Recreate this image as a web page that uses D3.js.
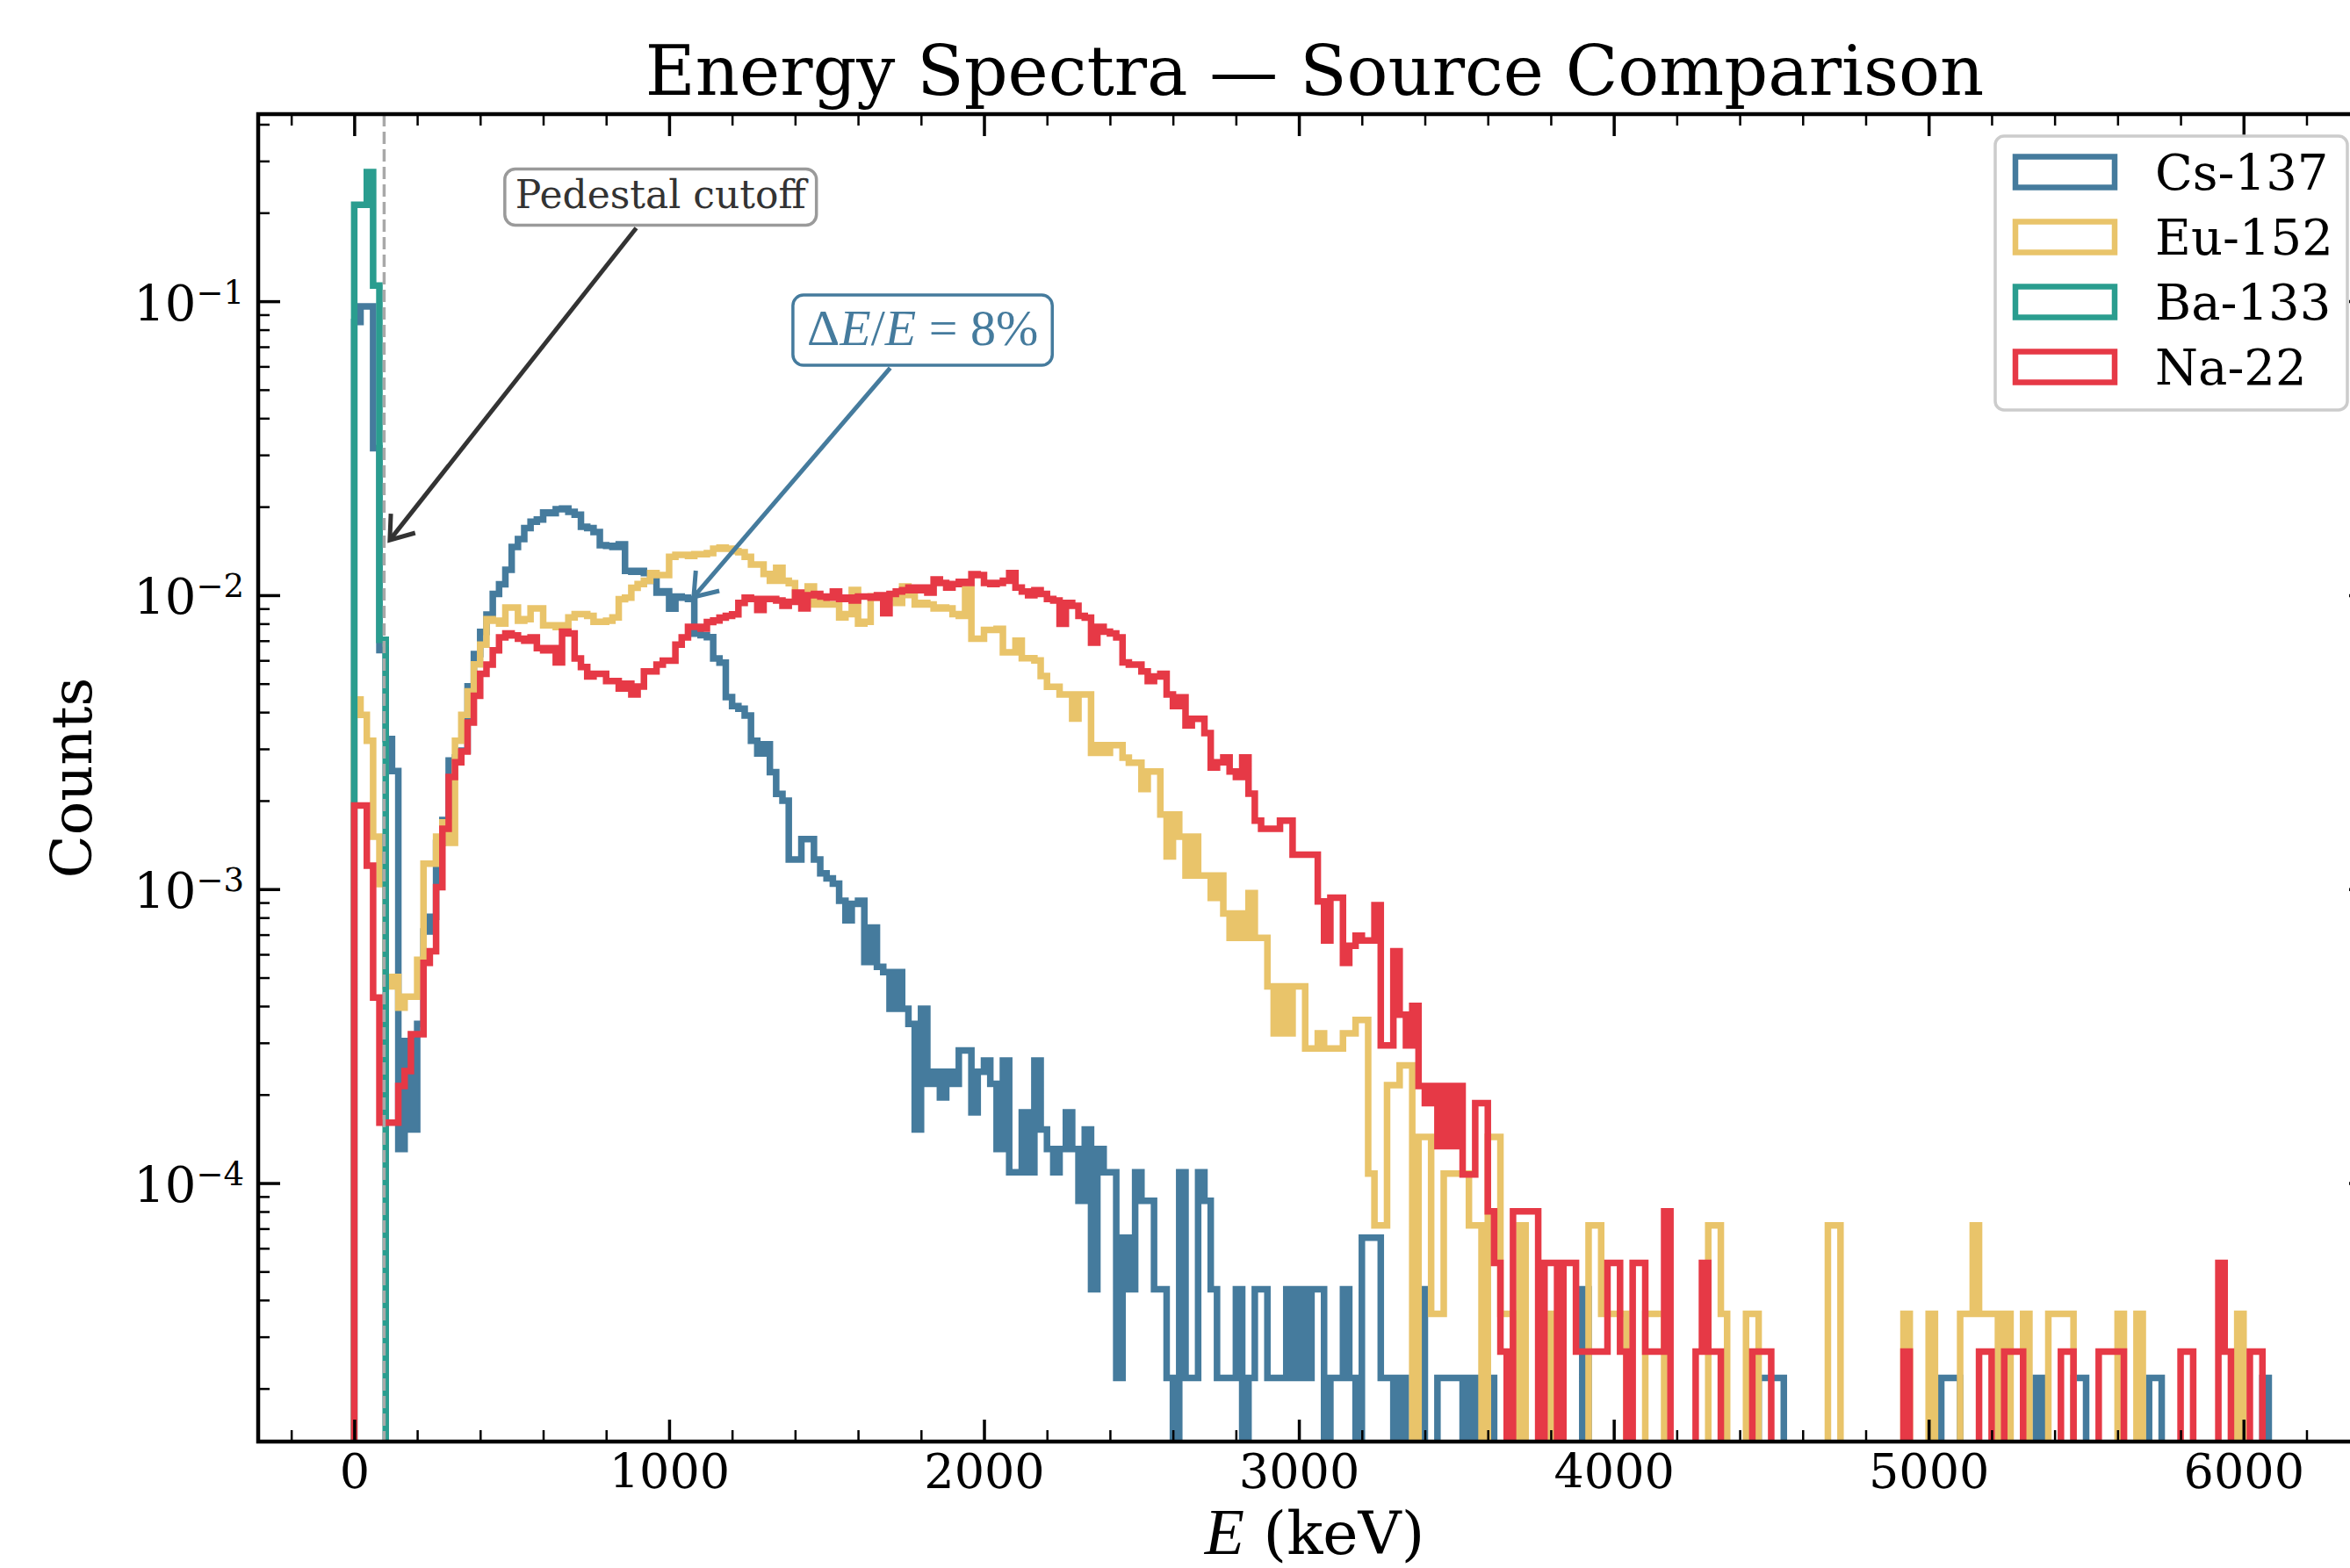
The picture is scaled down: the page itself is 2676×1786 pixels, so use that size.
<!DOCTYPE html>
<html>
<head>
<meta charset="utf-8">
<script src="https://cdn.jsdelivr.net/npm/d3@7"></script>
<style>
  html, body { margin: 0; padding: 0; background: #fff; overflow: hidden }
  svg { display: block }
</style>
</head>
<body>
<div id="chart"></div>
<script>
// histogram bins: 20 keV wide, starting at 0 keV
const BIN_WIDTH = 20

const sources = ['Cs-137', 'Eu-152', 'Ba-133', 'Na-22']
const colors = ['#457b9d', '#e9c46a', '#2a9d8f', '#e63946']
// events per source, counts are divided by these
const totals = [45977, 27855, 20000, 37411]

const cs137 = [
  3908, 4414, 4414, 1453, 299, 149, 116, 6, 14, 7,
  16, 33, 37, 66, 79, 126, 129, 136, 225, 290,
  345, 395, 464, 501, 561, 671, 713, 777, 818, 832,
  878, 874, 901, 906, 883, 864, 786, 777, 754, 680,
  676, 671, 685, 556, 552, 556, 547, 515, 469, 474,
  414, 455, 451, 446, 340, 336, 331, 280, 271, 207,
  193, 189, 179, 147, 133, 143, 115, 97, 92, 58,
  58, 68, 68, 58, 52, 50, 48, 42, 36, 41,
  42, 26, 34, 25, 24, 18, 24, 18, 16, 7,
  18, 10, 11, 9, 11, 10, 13, 13, 8, 11,
  12, 10, 6, 12, 5, 5, 8, 5, 12, 7,
  6, 5, 6, 8, 6, 4, 7, 2, 6, 5,
  5, 1, 3, 2, 5, 4, 4, 2, 2, 1,
  0, 5, 1, 1, 5, 4, 2, 1, 1, 1,
  2, 0, 1, 2, 2, 1, 1, 1, 2, 1,
  2, 1, 2, 2, 0, 1, 1, 2, 1, 0,
  3, 3, 3, 1, 1, 0, 1, 0, 0, 2,
  0, 0, 1, 1, 1, 1, 0, 1, 0, 1,
  1, 0, 0, 0, 0, 0, 0, 0, 0, 0,
  0, 0, 0, 0, 0, 2, 0, 0, 0, 0,
  0, 0, 0, 0, 0, 0, 0, 0, 0, 0,
  0, 0, 0, 0, 0, 0, 0, 0, 0, 0,
  0, 0, 0, 1, 1, 1, 1, 0, 0, 0,
  0, 0, 0, 0, 0, 0, 0, 0, 0, 0,
  0, 0, 0, 0, 0, 0, 0, 0, 0, 0,
  0, 0, 1, 1, 1, 0, 0, 0, 0, 0,
  0, 0, 0, 0, 0, 0, 0, 1, 0, 0,
  0, 0, 0, 1, 1, 0, 0, 0, 0, 0,
  0, 0, 0, 0, 0, 1, 1, 0, 0, 0,
  0, 0, 0, 0, 0, 0, 0, 0, 0, 0,
  0, 0, 0, 1, 0
]

const eu152 = [
  123, 109, 89, 42, 29, 13, 14, 11, 12, 12,
  16, 34, 34, 42, 47, 40, 89, 109, 131, 162,
  189, 231, 228, 223, 253, 253, 228, 231, 251, 251,
  220, 220, 217, 220, 234, 240, 240, 237, 226, 226,
  228, 234, 270, 273, 295, 304, 312, 331, 326, 326,
  376, 382, 382, 379, 384, 384, 387, 401, 404, 401,
  393, 390, 376, 354, 354, 329, 312, 345, 312, 306,
  276, 267, 298, 259, 262, 259, 259, 234, 240, 290,
  223, 226, 276, 273, 276, 273, 262, 298, 279, 259,
  262, 259, 251, 253, 251, 240, 237, 292, 198, 198,
  212, 212, 214, 178, 178, 195, 170, 170, 167, 148,
  136, 136, 128, 128, 106, 128, 128, 81, 86, 81,
  86, 86, 78, 75, 75, 61, 70, 70, 50, 36,
  50, 42, 31, 42, 31, 31, 26, 31, 23, 19,
  23, 19, 27, 19, 19, 13, 9, 13, 9, 13,
  13, 8, 8, 9, 8, 8, 8, 9, 9, 10,
  10, 3, 2, 2, 6, 6, 7, 7, 0, 4,
  4, 1, 1, 3, 3, 3, 3, 2, 2, 0,
  4, 4, 1, 1, 0, 2, 0, 0, 0, 0,
  1, 0, 0, 0, 0, 0, 2, 2, 1, 1,
  1, 1, 0, 0, 0, 1, 1, 1, 0, 0,
  0, 0, 0, 0, 0, 2, 2, 1, 0, 0,
  0, 1, 1, 0, 0, 0, 0, 0, 0, 0,
  0, 0, 0, 0, 2, 2, 0, 0, 0, 0,
  0, 0, 0, 0, 0, 0, 1, 0, 0, 0,
  1, 0, 0, 0, 0, 1, 1, 2, 1, 1,
  1, 0, 1, 0, 0, 1, 0, 0, 0, 1,
  1, 1, 1, 0, 0, 0, 0, 0, 0, 0,
  1, 0, 0, 1, 0, 0, 0, 0, 0, 0,
  0, 0, 0, 0, 0, 0, 0, 0, 0, 1,
  0, 0, 0, 0, 0
]

const ba133 = [4260, 4260, 5500, 2260, 141]

const na22 = [
  72, 72, 45, 16, 6, 6, 6, 8, 9, 12,
  12, 21, 23, 38, 60, 90, 101, 110, 138, 170,
  202, 217, 243, 269, 277, 273, 266, 262, 269, 247,
  243, 247, 221, 281, 277, 228, 213, 198, 202, 202,
  191, 191, 180, 187, 172, 183, 206, 206, 217, 224,
  224, 254, 269, 292, 292, 288, 303, 307, 314, 318,
  322, 352, 367, 363, 333, 363, 363, 359, 344, 355,
  382, 337, 374, 378, 370, 367, 385, 363, 367, 359,
  370, 370, 367, 374, 325, 378, 385, 389, 397, 389,
  397, 382, 423, 412, 397, 408, 415, 412, 441, 438,
  412, 408, 412, 419, 445, 397, 385, 374, 389, 378,
  363, 359, 299, 352, 344, 318, 314, 258, 292, 281,
  277, 269, 221, 217, 217, 206, 191, 198, 202, 172,
  157, 168, 135, 142, 142, 127, 97, 101, 105, 94,
  90, 105, 79, 64, 60, 60, 60, 64, 64, 49,
  49, 49, 49, 34, 25, 35, 35, 21, 24, 26,
  25, 25, 33, 11, 11, 23, 14, 11, 15, 8,
  7, 8, 5, 8, 5, 8, 4, 4, 7, 7,
  3, 2, 1, 0, 3, 3, 3, 3, 0, 2,
  2, 0, 2, 2, 1, 1, 1, 1, 1, 2,
  2, 1, 0, 2, 2, 1, 1, 1, 3, 0,
  0, 0, 0, 1, 2, 1, 1, 0, 0, 0,
  0, 0, 1, 1, 1, 0, 0, 0, 0, 0,
  0, 0, 0, 0, 0, 0, 0, 0, 0, 0,
  0, 0, 0, 0, 0, 0, 1, 0, 0, 0,
  0, 0, 0, 0, 0, 0, 0, 0, 1, 1,
  0, 0, 1, 1, 1, 0, 0, 0, 0, 0,
  0, 1, 1, 0, 0, 0, 0, 1, 1, 1,
  1, 0, 0, 0, 0, 0, 0, 0, 0, 0,
  1, 1, 0, 0, 0, 0, 2, 1, 0, 0,
  0, 1, 1, 0, 0
]

const xTicks = [0, 1000, 2000, 3000, 4000, 5000, 6000]
const xLimits = [-305, 6405]
const yTicks = [1e-4, 1e-3, 1e-2, 1e-1]
const yLimits = [1.32e-5, 0.433]
const pedestalCutoff = 95

const annotations = [
  { label: 'Pedestal cutoff', target: [113, 0.0154], at: [973, 0.226], color: '#333333', edge: '#9a9a9a' },
  { label: 'ΔE/E=8%', target: [1078, 0.00986], at: [1805, 0.0797], color: '#457b9d', edge: '#457b9d' }
]

const dimensions = {
  width: 2676,
  height: 1786,
  margin: { top: 130, right: -24, bottom: 144, left: 294 }
}
const plot = {
  left: dimensions.margin.left,
  right: dimensions.width - dimensions.margin.right,
  top: dimensions.margin.top,
  bottom: dimensions.height - dimensions.margin.bottom
}

const SERIF = "'DejaVu Serif', serif"
const MATH = "'Liberation Serif', 'DejaVu Serif', serif"
const LW = 7.5

const svg = d3.select('#chart').append('svg')
  .attr('width', dimensions.width)
  .attr('height', dimensions.height)

const xScale = d3.scaleLinear().domain(xLimits).range([plot.left, plot.right])
const yScale = d3.scaleLog().domain(yLimits).range([plot.bottom, plot.top])

svg.append('defs').append('clipPath')
  .attr('id', 'plot-clip')
  .append('rect')
  .attr('x', plot.left)
  .attr('y', plot.top)
  .attr('width', plot.right - plot.left)
  .attr('height', plot.bottom - plot.top)

// step outlines, like histtype='step'
const series = sources.map((name, i) => ({
  name,
  color: colors[i],
  counts: [cs137, eu152, ba133, na22][i],
  total: totals[i]
}))

function stepPoints (s) {
  const pts = [[0, 0]]
  s.counts.forEach((c, i) => pts.push([i * BIN_WIDTH, c / s.total]))
  pts.push([s.counts.length * BIN_WIDTH, 0])
  return pts
}

const stepLine = d3.line()
  .x(d => xScale(d[0]))
  .y(d => d[1] > 0 ? yScale(d[1]) : plot.bottom + 80)
  .curve(d3.curveStepAfter)

const bounds = svg.append('g').attr('clip-path', 'url(#plot-clip)')

bounds.selectAll('path.hist')
  .data(series)
  .join('path')
  .attr('class', 'hist')
  .attr('fill', 'none')
  .attr('stroke', d => d.color)
  .attr('stroke-width', LW)
  .attr('stroke-linejoin', 'miter')
  .attr('d', d => stepLine(stepPoints(d)))

// pedestal cutoff line
bounds.append('line')
  .attr('x1', xScale(pedestalCutoff))
  .attr('x2', xScale(pedestalCutoff))
  .attr('y1', plot.top)
  .attr('y2', plot.bottom)
  .attr('stroke', '#a8a8a8')
  .attr('stroke-width', 3.5)
  .attr('stroke-dasharray', '14,6')

// axes
const xMinor = d3.range(-200, 6401, 200).filter(v => v % 1000 !== 0)
const yMinor = []
for (let e = -5; e <= -1; e++) {
  for (let m = 2; m <= 9; m++) {
    const v = m * Math.pow(10, e)
    if (v >= yLimits[0] && v <= yLimits[1]) yMinor.push(v)
  }
}

function drawAxis (axis, transform, width) {
  return svg.append('g')
    .attr('transform', transform)
    .call(axis)
    .call(g => g.select('.domain').remove())
    .call(g => g.selectAll('.tick line').attr('stroke', '#000').attr('stroke-width', width))
    .call(g => g.selectAll('.tick text')
      .attr('fill', '#000')
      .attr('font-family', SERIF)
      .attr('font-size', 54))
}

drawAxis(d3.axisBottom(xScale).tickValues(xTicks).tickSize(-25).tickPadding(15).tickFormat(d3.format('d')),
  `translate(0, ${plot.bottom})`, 3.5)
drawAxis(d3.axisBottom(xScale).tickValues(xMinor).tickSize(-13).tickFormat(''),
  `translate(0, ${plot.bottom})`, 2.5)
drawAxis(d3.axisTop(xScale).tickValues(xTicks).tickSize(-25).tickFormat(''),
  `translate(0, ${plot.top})`, 3.5)
drawAxis(d3.axisTop(xScale).tickValues(xMinor).tickSize(-13).tickFormat(''),
  `translate(0, ${plot.top})`, 2.5)
drawAxis(d3.axisRight(yScale).tickValues(yTicks).tickSize(-25).tickFormat(''),
  `translate(${plot.right}, 0)`, 3.5)
drawAxis(d3.axisRight(yScale).tickValues(yMinor).tickSize(-13).tickFormat(''),
  `translate(${plot.right}, 0)`, 2.5)
drawAxis(d3.axisLeft(yScale).tickValues(yMinor).tickSize(-13).tickFormat(''),
  `translate(${plot.left}, 0)`, 2.5)

const yAxis = drawAxis(d3.axisLeft(yScale).tickValues(yTicks).tickSize(-25).tickPadding(16).tickFormat(''),
  `translate(${plot.left}, 0)`, 3.5)

yAxis.selectAll('.tick text')
  .attr('dy', 21)
  .each(function (d) {
    const t = d3.select(this)
    t.append('tspan').attr('font-size', 56).text('10')
    t.append('tspan')
      .attr('font-size', 37)
      .attr('dy', -19)
      .text('\u2212' + Math.abs(Math.round(Math.log10(d))))
  })

// spines
svg.append('rect')
  .attr('x', plot.left)
  .attr('y', plot.top)
  .attr('width', plot.right - plot.left)
  .attr('height', plot.bottom - plot.top)
  .attr('fill', 'none')
  .attr('stroke', '#000')
  .attr('stroke-width', 4.5)

// annotations
function drawAnnotation (a, fontSize, padX, boxH) {
  const g = svg.append('g')
  const cx = xScale(a.at[0])
  const cy = yScale(a.at[1])
  const tx = xScale(a.target[0])
  const ty = yScale(a.target[1])

  const text = g.append('text')
    .attr('x', cx)
    .attr('y', cy + 0.29 * fontSize)
    .attr('text-anchor', 'middle')
    .attr('fill', a.color)
    .attr('font-size', fontSize)

  if (a.label.startsWith('Δ')) {
    text.attr('font-family', MATH)
    const parts = [['Δ', 'normal'], ['E', 'italic'], ['/', 'normal'], ['E', 'italic'], [' = ', 'normal'], ['8%', 'normal']]
    parts.forEach(p => text.append('tspan').attr('font-style', p[1]).text(p[0]))
  } else {
    text.attr('font-family', SERIF).text(a.label)
  }

  const w = text.node().getComputedTextLength() + 2 * padX
  const h = boxH
  g.insert('rect', 'text')
    .attr('x', cx - w / 2)
    .attr('y', cy - h / 2)
    .attr('width', w)
    .attr('height', h)
    .attr('rx', 12)
    .attr('fill', '#fff')
    .attr('stroke', a.edge)
    .attr('stroke-width', 3.5)

  // arrow from box edge to target
  const dx = tx - cx
  const dy = ty - cy
  const t = Math.min(Math.abs((w / 2) / dx), Math.abs((h / 2) / dy))
  const len = Math.hypot(dx, dy)
  const sx = cx + dx * t + dx / len * 4
  const sy = cy + dy * t + dy / len * 4
  g.append('line')
    .attr('x1', sx).attr('y1', sy)
    .attr('x2', tx).attr('y2', ty)
    .attr('stroke', a.color)
    .attr('stroke-width', 5)

  const ang = Math.atan2(sy - ty, sx - tx)
  const head = 30
  const spread = 36 * Math.PI / 180
  const p1 = [tx + head * Math.cos(ang + spread), ty + head * Math.sin(ang + spread)]
  const p2 = [tx + head * Math.cos(ang - spread), ty + head * Math.sin(ang - spread)]
  g.append('path')
    .attr('d', `M${p1[0]},${p1[1]}L${tx},${ty}L${p2[0]},${p2[1]}`)
    .attr('fill', 'none')
    .attr('stroke', a.color)
    .attr('stroke-width', 5)
    .attr('stroke-linejoin', 'miter')
}

drawAnnotation(annotations[0], 44, 12, 64)
drawAnnotation(annotations[1], 58, 16, 80)

// legend
const legend = svg.append('g')
legend.append('rect')
  .attr('x', 2272)
  .attr('y', 155)
  .attr('width', 401)
  .attr('height', 312)
  .attr('rx', 10)
  .attr('fill', '#fff')
  .attr('fill-opacity', 0.8)
  .attr('stroke', '#cccccc')
  .attr('stroke-width', 3.5)

const rows = legend.selectAll('g.row')
  .data(series)
  .join('g')
  .attr('class', 'row')
  .attr('transform', (d, i) => `translate(0, ${196 + i * 74})`)

rows.append('rect')
  .attr('x', 2295)
  .attr('y', -17.5)
  .attr('width', 113)
  .attr('height', 35)
  .attr('fill', 'none')
  .attr('stroke', d => d.color)
  .attr('stroke-width', 6.5)

rows.append('text')
  .attr('x', 2454)
  .attr('y', 20)
  .attr('font-family', SERIF)
  .attr('font-size', 56)
  .attr('fill', '#000')
  .text(d => d.name)

// titles
svg.append('text')
  .attr('x', (plot.left + plot.right) / 2)
  .attr('y', 108)
  .attr('text-anchor', 'middle')
  .attr('font-family', SERIF)
  .attr('font-size', 78)
  .text('Energy Spectra — Source Comparison')

svg.append('text')
  .attr('transform', `translate(104, ${(plot.top + plot.bottom) / 2}) rotate(-90)`)
  .attr('text-anchor', 'middle')
  .attr('font-family', SERIF)
  .attr('font-size', 64)
  .text('Counts')

const xLabel = svg.append('text')
  .attr('x', (plot.left + plot.right) / 2)
  .attr('y', 1770)
  .attr('text-anchor', 'middle')
  .attr('font-family', SERIF)
  .attr('font-size', 68)
xLabel.append('tspan').attr('font-family', MATH).attr('font-style', 'italic').attr('font-size', 74).text('E')
xLabel.append('tspan').text(' (keV)')
</script>
</body>
</html>
